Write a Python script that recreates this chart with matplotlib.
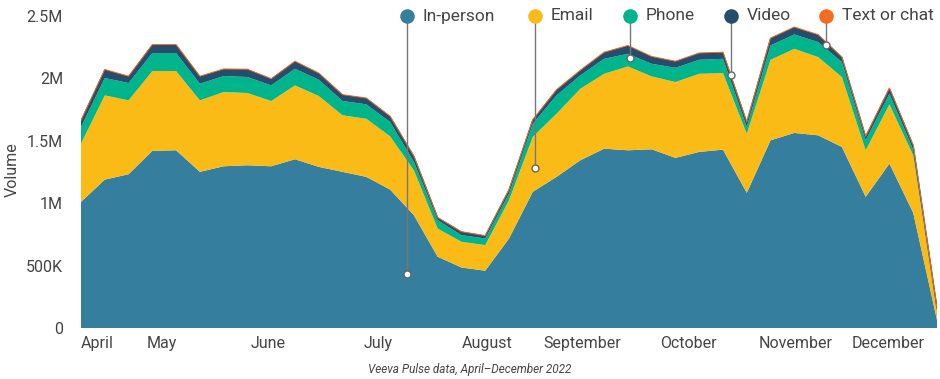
import matplotlib
matplotlib.use("Agg")
import matplotlib.pyplot as plt
import numpy as np

plt.rcParams['font.family'] = ['Roboto', 'DejaVu Sans']

# weekly volumes (thousands), April–December 2022
in_person = [1010, 1189, 1232, 1419, 1424, 1251, 1296, 1304, 1296, 1352, 1291, 1251, 1211,
             1109, 904, 571, 485, 459, 717, 1091, 1211, 1344, 1437, 1424, 1432, 1363, 1411,
             1429, 1083, 1504, 1563, 1544, 1451, 1051, 1317, 923, 64]
email = [468, 675, 592, 640, 635, 573, 595, 579, 523, 592, 568, 453, 466,
         427, 360, 226, 206, 205, 307, 440, 506, 573, 600, 672, 584, 608, 626,
         614, 474, 645, 674, 627, 560, 373, 475, 461, 80]
phone = [132, 139, 139, 144, 144, 133, 128, 128, 125, 133, 130, 115, 115,
         115, 67, 67, 53, 53, 53, 106, 147, 107, 120, 101, 101, 114, 112,
         114, 54, 115, 115, 120, 120, 80, 85, 45, 10]
video = [48, 62, 48, 61, 61, 54, 50, 56, 48, 54, 48, 45, 45,
         40, 42, 18, 24, 19, 27, 27, 40, 35, 46, 60, 52, 46, 48,
         46, 35, 53, 53, 53, 34, 27, 40, 30, 5]
text_chat = [6, 7, 7, 7, 7, 7, 7, 7, 6, 7, 6, 6, 6,
             6, 5, 4, 4, 4, 5, 6, 6, 7, 7, 7, 7, 7, 7,
             7, 5, 7, 7, 7, 7, 5, 6, 5, 1]

series_names = ["In-person", "Email", "Phone", "Video", "Text or chat"]
colors = ["#367E9E", "#FBBB16", "#00B48B", "#254D6E", "#F36C21"]

month_labels = ["April", "May", "June", "July", "August", "September", "October", "November", "December"]
month_pos = [0.67, 3.41, 7.86, 12.49, 17.07, 21.07, 25.53, 30.07, 33.94]

ytick_vals = [0, 500, 1000, 1500, 2000, 2500]
ytick_labels = ["0", "500K", "1M", "1.5M", "2M", "2.5M"]

# annotation anchor points for the legend leaders (week index, thousands)
leader_x = [13.71, 19.09, 23.09, 27.33, 31.33]
leader_y = [432, 1280, 2160, 2024, 2264]
legend_x = [13.71, 19.09, 23.09, 27.33, 31.33]

x = np.arange(len(in_person))
data = [np.array(in_person), np.array(email), np.array(phone), np.array(video), np.array(text_chat)]

fig = plt.figure(figsize=(9.4, 3.79), dpi=100)
ax = fig.add_axes([81/940, 1 - 328/379, 856/940, 312/379])

ax.stackplot(x, *data, colors=colors, linewidth=0)
cum = np.cumsum(np.vstack(data), axis=0)
# thin outline on the top of video layer
ax.plot(x, cum[3], color="#254D6E", lw=1.0, zorder=3)
ax.plot(x, cum[4], color="#F36C21", lw=0.7, zorder=3)

ax.set_xlim(0, len(in_person) - 1)
ax.set_ylim(0, 2500)
ax.set_yticks(ytick_vals)
ax.set_yticklabels(ytick_labels)
ax.set_xticks(month_pos)
ax.set_xticklabels(month_labels)
ax.tick_params(axis='both', length=0, labelsize=11.5, labelcolor="#444444")
ax.tick_params(axis='y', pad=13)
ax.tick_params(axis='x', pad=6)
for s in ax.spines.values():
    s.set_visible(False)

fig.text(12/940, 1 - 170/379, "Volume", fontsize=11.5, color="#444444",
         rotation=90, ha='center', va='center')

# legend with leader lines
for i, name in enumerate(series_names):
    lx = legend_x[i]
    ax.plot([lx, leader_x[i]], [2500, leader_y[i]], color="#777777", lw=1.0,
            zorder=5, clip_on=False)
    ax.plot([lx], [2500], marker='o', markersize=10.5, color=colors[i],
            markeredgewidth=0, zorder=6, clip_on=False)
    ax.plot([leader_x[i]], [leader_y[i]], marker='o', markersize=5,
            markerfacecolor="white", markeredgecolor="#666666", markeredgewidth=1,
            zorder=7, clip_on=False)
    ax.text(lx + 0.67, 2500, name, fontsize=12.5, color="#444444",
            va='center', ha='left', zorder=6, clip_on=False)

fig.text(470/940, 1 - 369/379, "Veeva Pulse data, April\u2013December 2022",
         fontsize=8.5, style='italic', color="#444444", ha='center', va='center')

fig.savefig("out.png", dpi=100)
